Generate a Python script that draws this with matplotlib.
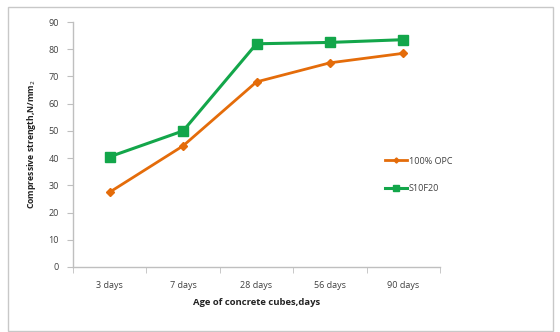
import matplotlib
matplotlib.use("Agg")
import matplotlib.pyplot as plt
from matplotlib.patches import Rectangle

categories = ["3 days", "7 days", "28 days", "56 days", "90 days"]
opc_100 = [27.5, 44.5, 68.0, 75.0, 78.5]
s10f20 = [40.5, 50.0, 82.0, 82.5, 83.5]
series_names = ["100% OPC", "S10F20"]
y_ticks = [0, 10, 20, 30, 40, 50, 60, 70, 80, 90]

plt.rcParams["font.family"] = ["Open Sans", "DejaVu Sans"]

fig = plt.figure(figsize=(5.6, 3.32), dpi=100)
fig.patch.set_facecolor("white")

# outer chart border
fig.add_artist(Rectangle((8 / 560, 1 / 332), 545 / 560, 324 / 332,
                         transform=fig.transFigure, fill=False,
                         edgecolor="#c8c8c8", linewidth=1.0))

ax = fig.add_axes([73 / 560, 1 - 267 / 332, 367 / 560, 245 / 332])
x = list(range(len(categories)))

ax.plot(x, opc_100, color="#E46C0A", linewidth=2.0, marker="D",
        markersize=4, markerfacecolor="#E46C0A", markeredgecolor="#E46C0A",
        label=series_names[0], zorder=3)
ax.plot(x, s10f20, color="#13A64A", linewidth=2.2, marker="s",
        markersize=6.5, markerfacecolor="#13A64A", markeredgecolor="#13A64A",
        label=series_names[1], zorder=3)

ax.set_xlim(-0.5, len(categories) - 0.5)
ax.set_ylim(0, 90)
ax.set_yticks(y_ticks)
ax.set_xticks(x)
ax.set_xticklabels(categories)
ax.set_xticks([i - 0.5 for i in range(len(categories) + 1)], minor=True)

for side in ("top", "right"):
    ax.spines[side].set_visible(False)
for side in ("left", "bottom"):
    ax.spines[side].set_color("#bfbfbf")
    ax.spines[side].set_linewidth(1.0)

ax.tick_params(axis="y", labelsize=6.5, colors="#404040", length=4,
               color="#bfbfbf", pad=6)
ax.tick_params(axis="x", which="major", labelsize=6.5, colors="#404040",
               length=0, pad=10)
ax.tick_params(axis="x", which="minor", length=4, color="#bfbfbf")

ax.set_xlabel("Age of concrete cubes,days", fontsize=6.8, fontweight="bold",
              color="#222222", labelpad=6)
ax.set_ylabel("Compressive strength,N/mm$_2$", fontsize=6.2, fontweight="bold",
              color="#222222", labelpad=8)

leg = fig.legend(loc="upper left", bbox_to_anchor=(381 / 560, 1 - 153 / 332),
                 frameon=False, fontsize=6.5, handlelength=2.5,
                 labelspacing=2.0, handletextpad=0.2, borderaxespad=0,
                 markerscale=0.65)
for t in leg.get_texts():
    t.set_color("#404040")

fig.savefig("out.png", dpi=100, facecolor="white")
